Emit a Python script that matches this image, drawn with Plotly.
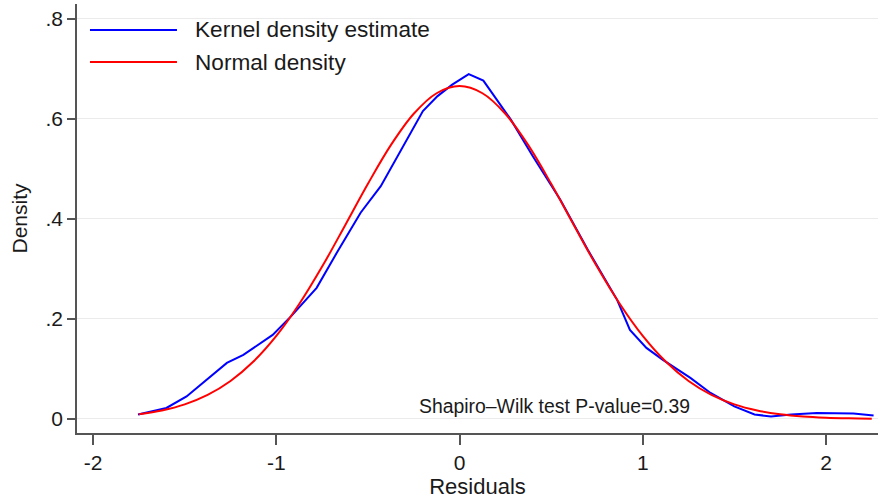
import plotly.graph_objects as go

# Kernel density estimate
kde_x = [-1.755, -1.60, -1.49, -1.38, -1.27, -1.18, -1.11, -1.02, -0.92, -0.87, -0.78, -0.67,
         -0.60, -0.54, -0.43, -0.32, -0.20, -0.12, -0.04, 0.05, 0.13, 0.28, 0.40, 0.55, 0.70,
         0.86, 0.93, 1.02, 1.11, 1.26, 1.37, 1.50, 1.61, 1.70, 1.81, 1.95, 2.04, 2.15, 2.26]
kde_y = [0.009, 0.022, 0.045, 0.078, 0.112, 0.128, 0.145, 0.168, 0.205, 0.225, 0.262, 0.332,
         0.375, 0.412, 0.465, 0.538, 0.615, 0.645, 0.668, 0.689, 0.676, 0.598, 0.525, 0.438, 0.338,
         0.238, 0.178, 0.142, 0.118, 0.082, 0.052, 0.025, 0.009, 0.005, 0.009, 0.012, 0.012, 0.011, 0.007]

# Normal density
norm_x = [-1.75, -1.625, -1.5, -1.375, -1.25, -1.125, -1.0, -0.875, -0.75, -0.625, -0.5, -0.375,
          -0.25, -0.125, 0.0, 0.125, 0.25, 0.375, 0.5, 0.625, 0.75, 0.875, 1.0, 1.125, 1.25,
          1.375, 1.5, 1.625, 1.75, 1.875, 2.0, 2.125, 2.25]
norm_y = [0.0095, 0.0170, 0.0292, 0.0481, 0.0759, 0.1147, 0.1659, 0.2296, 0.3044, 0.3866, 0.4699,
          0.5470, 0.6097, 0.6507, 0.665, 0.6507, 0.6097, 0.5470, 0.4699, 0.3866, 0.3044, 0.2296,
          0.1659, 0.1147, 0.0759, 0.0481, 0.0292, 0.0170, 0.0095, 0.0050, 0.0026, 0.0013, 0.0006]

x_ticks = [-2, -1, 0, 1, 2]
x_tick_labels = ["-2", "-1", "0", "1", "2"]
y_ticks = [0, 0.2, 0.4, 0.6, 0.8]
y_tick_labels = ["0", ".2", ".4", ".6", ".8"]

series_names = ["Kernel density estimate", "Normal density"]
series_colors = ["#0000ff", "#ff0000"]
note_text = "Shapiro\u2013Wilk test P-value=0.39"

FONT = "Liberation Sans, Arial, sans-serif"
TXT = "#1a1a1a"
AX = "#555555"

fig = go.Figure()
fig.add_trace(go.Scatter(x=kde_x, y=kde_y, mode="lines", name=series_names[0],
                         line=dict(color=series_colors[0], width=2), showlegend=False))
fig.add_trace(go.Scatter(x=norm_x, y=norm_y, mode="lines", name=series_names[1],
                         line=dict(color=series_colors[1], width=2, shape="spline"), showlegend=False))

# Manual legend (Stata style, long line samples)
fig.add_shape(type="rect", xref="paper", yref="paper", x0=0.002, x1=0.468, y0=0.872, y1=0.998,
              fillcolor="white", line=dict(width=0), layer="between")
leg_y = [0.9394, 0.8648]
for name, col, yy in zip(series_names, series_colors, leg_y):
    fig.add_shape(type="line", xref="paper", yref="paper", x0=0.0162, x1=0.1248, y0=yy, y1=yy,
                  line=dict(color=col, width=2))
    fig.add_annotation(xref="paper", yref="paper", x=0.1448, y=yy, text=name, showarrow=False,
                       xanchor="left", yanchor="middle", font=dict(size=22.6, color=TXT, family=FONT))

fig.add_annotation(x=0.52, y=0.025, text=note_text, showarrow=False, xanchor="center",
                   yanchor="middle", font=dict(size=19.4, color=TXT, family=FONT))

fig.update_layout(
    width=878, height=499,
    margin=dict(l=77, r=0, t=4, b=66),
    paper_bgcolor="white", plot_bgcolor="white",
    font=dict(family=FONT, color=TXT),
    xaxis=dict(range=[-2.088, 2.284], tickvals=x_ticks, ticktext=x_tick_labels,
               showgrid=False, zeroline=False, showline=True, linecolor=AX, linewidth=1.5,
               ticks="outside", ticklen=10, tickwidth=1.5, tickcolor=AX,
               tickfont=dict(size=21, color=TXT, family=FONT),
               title=dict(text="Residuals", font=dict(size=22, color=TXT, family=FONT), standoff=3)),
    yaxis=dict(range=[-0.028, 0.829], tickvals=y_ticks, ticktext=y_tick_labels,
               showgrid=True, gridcolor="#ebebeb", gridwidth=1, zeroline=False,
               showline=True, linecolor=AX, linewidth=1.5,
               ticks="outside", ticklen=8, tickwidth=1.5, tickcolor=AX,
               tickfont=dict(size=21, color=TXT, family=FONT),
               title=dict(text="Density", font=dict(size=21, color=TXT, family=FONT), standoff=12)),
)

fig.write_html("out.html", config={"displayModeBar": False},
               post_script="document.body.style.margin='0';document.body.style.overflow='hidden';")
